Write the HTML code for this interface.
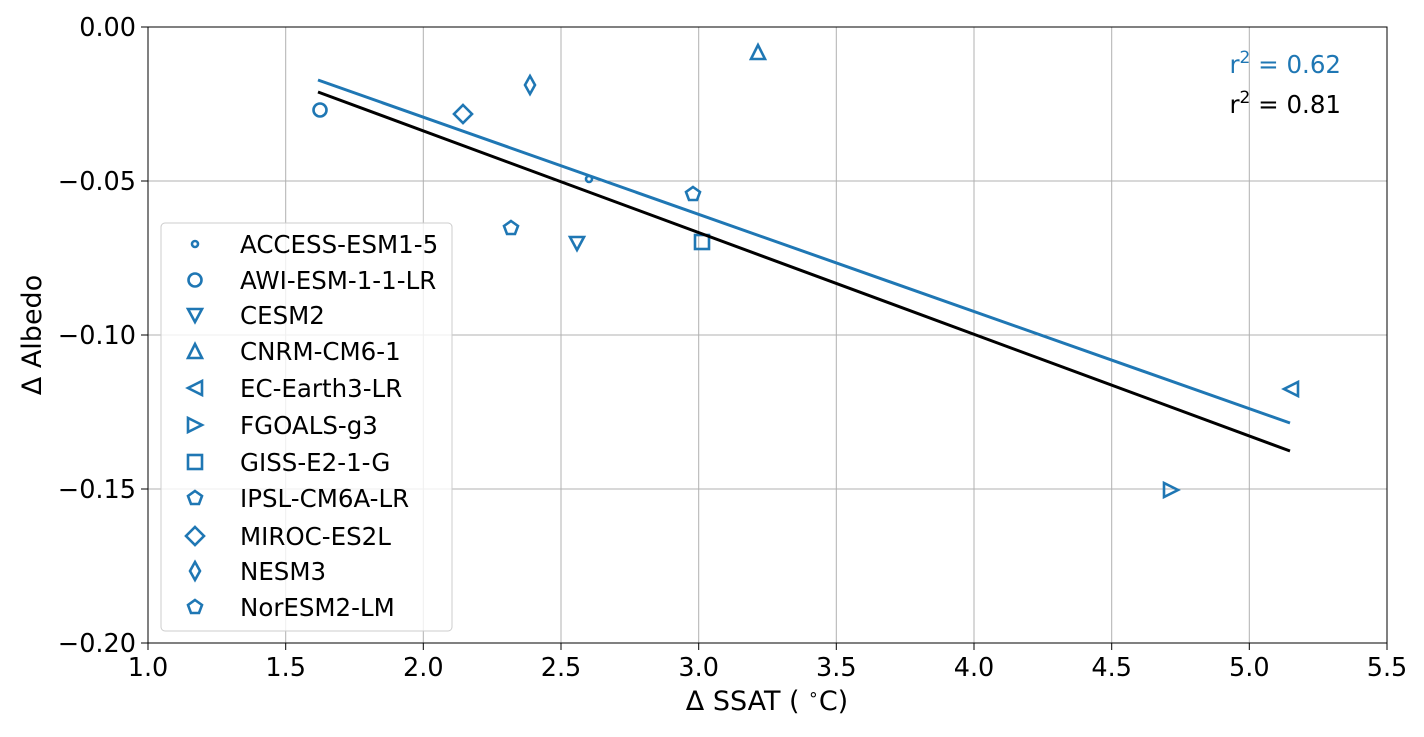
<!DOCTYPE html>
<html><head><meta charset="utf-8"><style>body{margin:0;background:#fff}</style></head><body>
<svg width="1424" height="732" viewBox="0 0 1424 732" xmlns="http://www.w3.org/2000/svg" font-family="'DejaVu Sans','Liberation Sans',sans-serif">
<g stroke="#b0b0b0" stroke-width="1">
<line x1="285.7" y1="27" x2="285.7" y2="643"/><line x1="423.3" y1="27" x2="423.3" y2="643"/><line x1="561" y1="27" x2="561" y2="643"/><line x1="698.7" y1="27" x2="698.7" y2="643"/><line x1="836.3" y1="27" x2="836.3" y2="643"/><line x1="974" y1="27" x2="974" y2="643"/><line x1="1111.7" y1="27" x2="1111.7" y2="643"/><line x1="1249.3" y1="27" x2="1249.3" y2="643"/>
<line x1="148" y1="181" x2="1387" y2="181"/><line x1="148" y1="335" x2="1387" y2="335"/><line x1="148" y1="489" x2="1387" y2="489"/>
</g>
<g fill="none" stroke="#1f77b4" stroke-width="2.6">
<circle cx="589" cy="179" r="3"/>
<circle cx="320" cy="110" r="6.5"/>
<polygon points="570,237 584,237 577,250"/>
<polygon points="751,59 765,59 758,45"/>
<polygon points="1298,382 1298,396 1284,389"/>
<polygon points="1164,483 1164,497 1178,490"/>
<rect x="695" y="235" width="14" height="14"/>
<polygon points="511,221 518,226 515,234 507,234 504,226"/>
<polygon points="463,105 472,114 463,123 454,114"/>
<polygon points="530,76 535,85 530,94 525,85"/>
<polygon points="693,187 700,192 697,200 689,200 686,192"/>
</g>
<line x1="318" y1="92" x2="1290" y2="451" stroke="#000" stroke-width="3"/>
<line x1="318" y1="80" x2="1290" y2="423" stroke="#1f77b4" stroke-width="3"/>
<rect x="148" y="27" width="1239" height="616" fill="none" stroke="#000" stroke-width="1"/>
<g stroke="#000" stroke-width="1">
<line x1="148" y1="643" x2="148" y2="650"/><line x1="285.7" y1="643" x2="285.7" y2="650"/><line x1="423.3" y1="643" x2="423.3" y2="650"/><line x1="561" y1="643" x2="561" y2="650"/><line x1="698.7" y1="643" x2="698.7" y2="650"/><line x1="836.3" y1="643" x2="836.3" y2="650"/><line x1="974" y1="643" x2="974" y2="650"/><line x1="1111.7" y1="643" x2="1111.7" y2="650"/><line x1="1249.3" y1="643" x2="1249.3" y2="650"/><line x1="1387" y1="643" x2="1387" y2="650"/>
<line x1="141" y1="27" x2="148" y2="27"/><line x1="141" y1="181" x2="148" y2="181"/><line x1="141" y1="335" x2="148" y2="335"/><line x1="141" y1="489" x2="148" y2="489"/><line x1="141" y1="643" x2="148" y2="643"/>
</g>
<g font-size="25.5" text-anchor="middle" fill="#000">
<text x="148" y="676">1.0</text><text x="285.7" y="676">1.5</text><text x="423.3" y="676">2.0</text><text x="561" y="676">2.5</text><text x="698.7" y="676">3.0</text><text x="836.3" y="676">3.5</text><text x="974" y="676">4.0</text><text x="1111.7" y="676">4.5</text><text x="1249.3" y="676">5.0</text><text x="1387" y="676">5.5</text>
</g>
<g font-size="25.5" text-anchor="end" fill="#000">
<text x="136" y="36">0.00</text><text x="136" y="190">−0.05</text><text x="136" y="344">−0.10</text><text x="136" y="498">−0.15</text><text x="136" y="652">−0.20</text>
</g>
<text x="767" y="710" font-size="27" text-anchor="middle">Δ SSAT ( <tspan font-size="17" dy="-10">∘</tspan><tspan dy="10">C)</tspan></text>
<text transform="translate(41,335) rotate(-90)" font-size="27" text-anchor="middle">Δ Albedo</text>
<text x="1341" y="73" font-size="24.5" text-anchor="end" fill="#1f77b4">r<tspan font-size="17" dy="-10">2</tspan><tspan dy="10"> = 0.62</tspan></text>
<text x="1341" y="113" font-size="24.5" text-anchor="end" fill="#000">r<tspan font-size="17" dy="-10">2</tspan><tspan dy="10"> = 0.81</tspan></text>
<rect x="161" y="223" width="291" height="408" rx="4" fill="#fff" fill-opacity="0.8" stroke="#ccc"/>
<g fill="none" stroke="#1f77b4" stroke-width="2.6">
<circle cx="195" cy="244" r="3"/>
<circle cx="195" cy="280" r="6.5"/>
<polygon points="188,309 202,309 195,322"/>
<polygon points="188,358 202,358 195,344"/>
<polygon points="202,381 202,395 188,388"/>
<polygon points="188,418 188,432 202,425"/>
<rect x="188" y="455" width="14" height="14"/>
<polygon points="195,491 202,496 199,504 191,504 188,496"/>
<polygon points="195,527 204,536 195,545 186,536"/>
<polygon points="195,562 200,571 195,580 190,571"/>
<polygon points="195,600 202,605 199,613 191,613 188,605"/>
</g>
<g font-size="24.5" fill="#000">
<text x="240" y="253">ACCESS-ESM1-5</text><text x="240" y="289">AWI-ESM-1-1-LR</text><text x="240" y="324">CESM2</text><text x="240" y="360">CNRM-CM6-1</text><text x="240" y="397">EC-Earth3-LR</text><text x="240" y="434">FGOALS-g3</text><text x="240" y="471">GISS-E2-1-G</text><text x="240" y="507">IPSL-CM6A-LR</text><text x="240" y="545">MIROC-ES2L</text><text x="240" y="580">NESM3</text><text x="240" y="616">NorESM2-LM</text>
</g>
</svg>
</body></html>
